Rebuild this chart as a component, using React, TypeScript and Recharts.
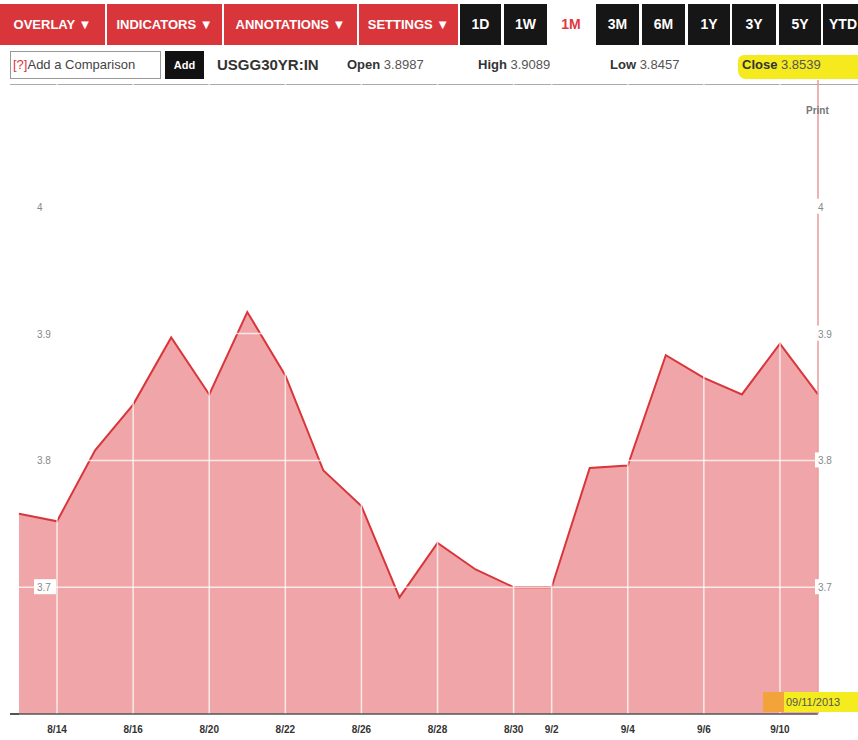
import { AreaChart, Area, XAxis, YAxis, ReferenceLine } from "recharts"

// 30Y treasury yield, one month of trading days
const dates = ["8/13", "8/14", "8/15", "8/16", "8/19", "8/20", "8/21", "8/22", "8/23", "8/26", "8/27", "8/28", "8/29", "8/30", "9/2", "9/3", "9/4", "9/5", "9/6", "9/9", "9/10", "9/11"]
const yields = [3.758, 3.752, 3.808, 3.844, 3.897, 3.852, 3.917, 3.867, 3.792, 3.764, 3.692, 3.735, 3.714, 3.7, 3.7, 3.794, 3.796, 3.883, 3.865, 3.852, 3.892, 3.852]
const tickDates = ["8/14", "8/16", "8/20", "8/22", "8/26", "8/28", "8/30", "9/2", "9/4", "9/6", "9/10"]
const yTicks = [3.7, 3.8, 3.9, 4]
const gridYs = [3.7, 3.8, 3.9]

const menuButtons = [
    { label: "OVERLAY ▼", x: 0, w: 105 },
    { label: "INDICATORS ▼", x: 107, w: 115 },
    { label: "ANNOTATIONS ▼", x: 224, w: 133 },
    { label: "SETTINGS ▼", x: 359, w: 99 },
]
const rangeButtons = [
    { label: "1D", x: 460, w: 41 },
    { label: "1W", x: 504, w: 43 },
    { label: "3M", x: 596, w: 43 },
    { label: "6M", x: 642, w: 43 },
    { label: "1Y", x: 688, w: 42 },
    { label: "3Y", x: 732, w: 44 },
    { label: "5Y", x: 779, w: 42 },
    { label: "YTD", x: 823, w: 40 },
]
const quote = [
    { label: "Open", value: "3.8987", x: 347 },
    { label: "High", value: "3.9089", x: 478 },
    { label: "Low", value: "3.8457", x: 610 },
    { label: "Close", value: "3.8539", x: 742 },
]

const data = dates.map((d, i) => ({ date: d, value: yields[i] }))

const FONT = "'Liberation Sans', Arial, sans-serif"

function RightTick(props: any) {
    const { x, y, payload } = props
    const label = String(payload.value)
    return (
        <g>
            <rect x={x - 3} y={y - 8} width={label.length * 6 + 4} height={15} fill="#fff" />
            <text x={x} y={y + 4} fontSize={10} fill="#888" fontFamily={FONT}>{label}</text>
        </g>
    )
}

function LeftLabel(props: any) {
    const { viewBox, value } = props
    const x = viewBox.x + 18
    const y = viewBox.y
    const label = String(value)
    return (
        <g>
            <rect x={x - 3} y={y - 8} width={label.length * 6 + 4} height={15} fill="#fff" />
            <text x={x} y={y + 4} fontSize={10} fill="#888" fontFamily={FONT}>{label}</text>
        </g>
    )
}

export default function App() {
    return (
        <div style={{ position: "absolute", left: 0, top: 0, width: 858, height: 740, background: "#fff", fontFamily: FONT, overflow: "hidden" }}>
            {/* toolbar */}
            {menuButtons.map((b) => (
                <div key={b.label} style={{ position: "absolute", left: b.x, top: 4, width: b.w, height: 41, background: "#d9363c", color: "#fff", fontWeight: 700, fontSize: 13, lineHeight: "41px", textAlign: "center", whiteSpace: "nowrap" }}>
                    {b.label}
                </div>
            ))}
            {rangeButtons.map((b) => (
                <div key={b.label} style={{ position: "absolute", left: b.x, top: 4, width: b.w, height: 41, background: "#161616", color: "#fff", fontWeight: 700, fontSize: 14, lineHeight: "41px", textAlign: "center" }}>
                    {b.label}
                </div>
            ))}
            <div style={{ position: "absolute", left: 556, top: 4, width: 30, height: 41, color: "#e0383e", fontWeight: 700, fontSize: 14, lineHeight: "41px", textAlign: "center" }}>1M</div>

            {/* quote row */}
            <div style={{ position: "absolute", left: 10, top: 51, width: 151, height: 28, border: "1px solid #999", boxSizing: "border-box", fontSize: 13, lineHeight: "26px", color: "#444", paddingLeft: 2, whiteSpace: "nowrap" }}>
                <span style={{ color: "#d9363c" }}>[?]</span>Add a Comparison
            </div>
            <div style={{ position: "absolute", left: 165, top: 51, width: 39, height: 28, background: "#111", color: "#fff", fontWeight: 700, fontSize: 11, lineHeight: "28px", textAlign: "center" }}>Add</div>
            <div style={{ position: "absolute", left: 217, top: 51, height: 28, fontWeight: 700, fontSize: 15, lineHeight: "28px", color: "#333" }}>USGG30YR:IN</div>
            <div style={{ position: "absolute", left: 738, top: 55, width: 120, height: 24, background: "#f4ea1e", borderRadius: "6px 0 0 8px" }} />
            {quote.map((q) => (
                <div key={q.label} style={{ position: "absolute", left: q.x, top: 51, height: 28, fontSize: 13, lineHeight: "28px", color: "#555", whiteSpace: "nowrap" }}>
                    <b style={{ color: "#333" }}>{q.label}</b> {q.value}
                </div>
            ))}
            <div style={{ position: "absolute", left: 10, top: 84, width: 848, height: 1, background: "#aaa" }} />

            {/* chart */}
            <div style={{ position: "absolute", left: 0, top: 0 }}>
                <AreaChart width={858} height={740} data={data} margin={{ top: 80, right: 0, bottom: 0, left: 19 }}>
                    <XAxis
                        dataKey="date"
                        type="category"
                        scale="point"
                        ticks={tickDates}
                        interval={0}
                        height={26}
                        tickLine={false}
                        axisLine={{ stroke: "#555", strokeWidth: 1.5 }}
                        tickMargin={6}
                        tick={{ fontSize: 10, fontWeight: 700, fill: "#333", fontFamily: FONT }}
                    />
                    <YAxis
                        yAxisId="r"
                        orientation="right"
                        domain={[3.6, 4.1]}
                        ticks={yTicks}
                        width={40}
                        tickLine={false}
                        tickMargin={0}
                        tickSize={0}
                        axisLine={{ stroke: "#eb9a9c", strokeWidth: 1.5 }}
                        tick={<RightTick />}
                    />
                    <Area
                        yAxisId="r"
                        type="linear"
                        dataKey="value"
                        stroke="#d8363b"
                        strokeWidth={2}
                        fill="#f0a6a8"
                        fillOpacity={1}
                        baseValue={3.6}
                        dot={false}
                        activeDot={false}
                        isAnimationActive={false}
                    />
                    {tickDates.map((d) => (
                        <ReferenceLine key={d} x={d} yAxisId="r" stroke="#ffffff" strokeOpacity={0.75} strokeWidth={1.5} />
                    ))}
                    {gridYs.map((v) => (
                        <ReferenceLine key={v} y={v} yAxisId="r" stroke="#ffffff" strokeOpacity={0.75} strokeWidth={1.5} />
                    ))}
                    {yTicks.map((v) => (
                        <ReferenceLine key={"l" + v} y={v} yAxisId="r" stroke="none" label={<LeftLabel value={v} />} />
                    ))}
                </AreaChart>
            </div>

            <div style={{ position: "absolute", left: 10, top: 713, width: 9, height: 1.5, background: "#555" }} />
            <div style={{ position: "absolute", left: 806, top: 105, fontSize: 10, fontWeight: 700, color: "#777" }}>Print</div>
            <div style={{ position: "absolute", left: 763, top: 692, width: 22, height: 20, background: "#f2a43a" }} />
            <div style={{ position: "absolute", left: 784, top: 692, width: 74, height: 20, background: "#f4ec1e", fontSize: 11, lineHeight: "20px", color: "#555", paddingLeft: 2 }}>09/11/2013</div>
        </div>
    )
}
